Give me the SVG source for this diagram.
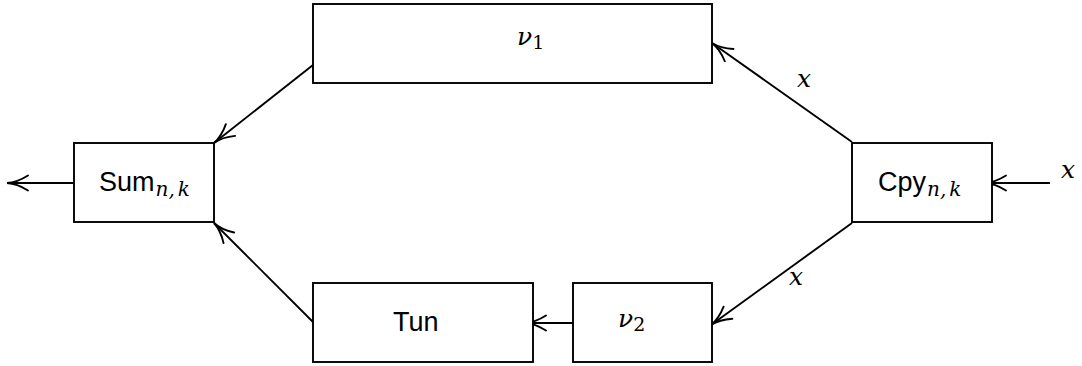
<svg xmlns="http://www.w3.org/2000/svg" width="1082" height="366" viewBox="0 0 1082 366">
<style>
.box{fill:#fff;stroke:#000;stroke-width:1.9}
.conn{stroke:#000;stroke-width:1.9;fill:none;marker-end:url(#to)}
.sans{font-family:"Liberation Sans",Arial,sans-serif;font-size:27px}
.math{font-family:"DejaVu Serif","Liberation Serif",serif;font-style:italic;font-size:25px}
.sub{font-family:"DejaVu Serif","Liberation Serif",serif;font-style:italic;font-size:20px}
.subup{font-family:"DejaVu Serif","Liberation Serif",serif;font-size:19px}
</style>
<defs>
<marker id="to" markerUnits="userSpaceOnUse" orient="auto" refX="0" refY="0" markerWidth="60" markerHeight="60" viewBox="-30 -30 60 60" overflow="visible">
<path d="M-21,-7.5 Q-10,-0.5 0,0 Q-10,0.5 -21,7.5" fill="none" stroke="#000" stroke-width="1.9" stroke-linecap="round"/>
</marker>
</defs>
<g id="connectors">
<line class="conn" x1="74" y1="183" x2="7" y2="183"/>
<line class="conn" x1="1050" y1="183" x2="985" y2="183"/>
<line class="conn" x1="573" y1="323" x2="525" y2="323"/>
<line class="conn" x1="852" y1="142" x2="712" y2="43"/>
<line class="conn" x1="852" y1="223" x2="711" y2="325"/>
<line class="conn" x1="313" y1="65" x2="214" y2="143"/>
<line class="conn" x1="313" y1="322" x2="214" y2="223"/>
<text class="math" x="797" y="87">x</text>
<text class="math" x="789" y="285">x</text>
<text class="math" x="1061" y="178">x</text>
</g>
<g id="sum">
<rect class="box" x="74" y="143" width="140" height="79"/>
<text x="99" y="191"><tspan class="sans">Sum</tspan><tspan class="sub" dy="5" dx="1">n,</tspan><tspan class="sub" dx="3">k</tspan></text>
</g>
<g id="cpy">
<rect class="box" x="852" y="143" width="140" height="79"/>
<text x="878" y="191"><tspan class="sans">Cpy</tspan><tspan class="sub" dy="5" dx="1">n,</tspan><tspan class="sub" dx="3">k</tspan></text>
</g>
<g id="nu1">
<rect class="box" x="313" y="4" width="399" height="79"/>
<text x="517" y="45"><tspan class="math">ν</tspan><tspan class="subup" dy="4">1</tspan></text>
</g>
<g id="tun">
<rect class="box" x="313" y="283" width="220" height="79"/>
<text class="sans" x="393" y="331">Tun</text>
</g>
<g id="nu2">
<rect class="box" x="573" y="283" width="139" height="79"/>
<text x="618" y="327"><tspan class="math">ν</tspan><tspan class="subup" dy="4">2</tspan></text>
</g>
</svg>
